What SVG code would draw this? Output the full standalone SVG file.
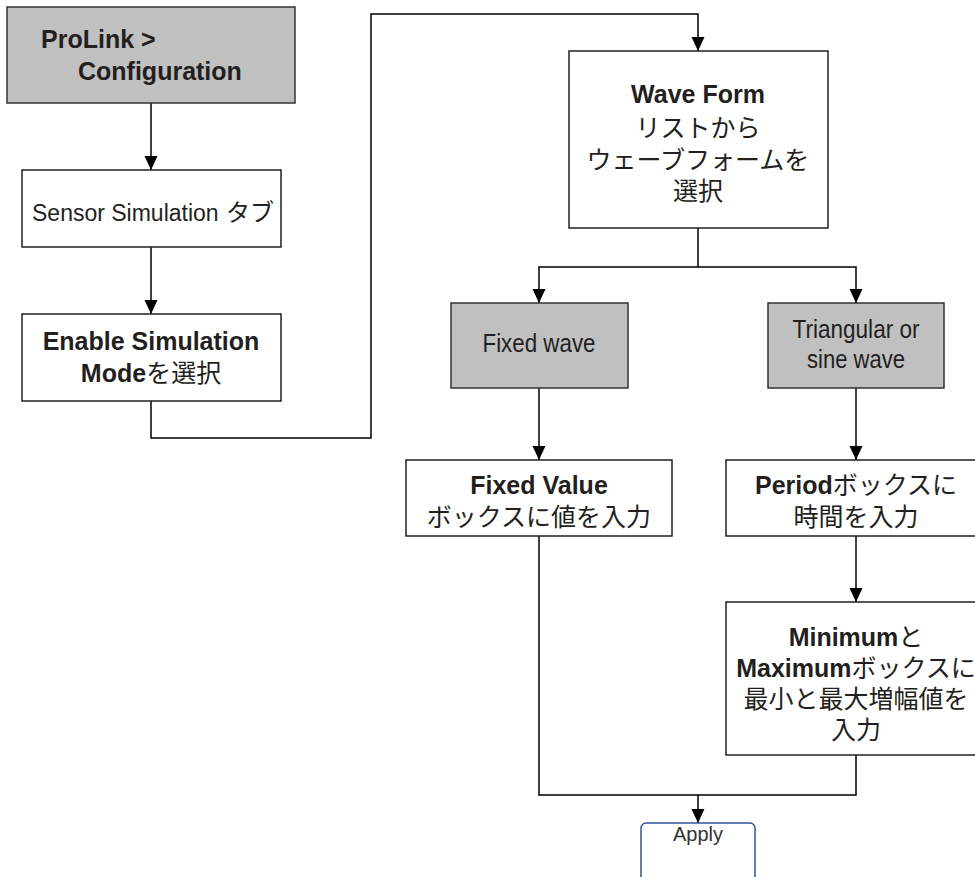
<svg xmlns="http://www.w3.org/2000/svg" width="975" height="877" viewBox="0 0 975 877">
<defs>
<marker id="ah" markerUnits="userSpaceOnUse" markerWidth="14" markerHeight="14" refX="14" refY="6.5" orient="auto">
<path d="M0,0 L14,6.5 L0,13 z" fill="#000"/>
</marker>
<style>
.box{fill:#fff;stroke:#231f20;stroke-width:1.5}
.gray{fill:#c0c0c0;stroke:#333;stroke-width:1.5}
.t{font-family:"Liberation Sans",Arial,"Noto Sans CJK JP",sans-serif;font-size:25px;fill:#231f20}
.c{text-anchor:middle}
.b{font-weight:bold;font-size:25px}
.jp{font-family:"Noto Sans CJK JP","Liberation Sans",sans-serif;font-size:25px;font-weight:normal}
.conn{fill:none;stroke:#000;stroke-width:1.5}
.apply{fill:#fff;stroke:#2f5597;stroke-width:1.5}
</style>
</defs>
<rect width="975" height="877" fill="#fff"/>
<g id="connectors">
<path class="conn" d="M151,103 V170" marker-end="url(#ah)"/>
<path class="conn" d="M151,247 V314" marker-end="url(#ah)"/>
<path class="conn" d="M151,401 V438 H371 V14 H698 V51" marker-end="url(#ah)"/>
<path class="conn" d="M698,228 V267 H539 V303" marker-end="url(#ah)"/>
<path class="conn" d="M698,267 H856 V303" marker-end="url(#ah)"/>
<path class="conn" d="M539,388 V460" marker-end="url(#ah)"/>
<path class="conn" d="M856,388 V460" marker-end="url(#ah)"/>
<path class="conn" d="M856,536 V602" marker-end="url(#ah)"/>
<path class="conn" d="M539,536 V795 H856 V755"/>
<path class="conn" d="M698,795 V823" marker-end="url(#ah)"/>
</g>
<g id="prolink">
<rect class="gray" x="7" y="7" width="288" height="96"/>
<text class="t b" x="41" y="48">ProLink &gt;</text>
<text class="t b" x="78" y="80">Configuration</text>
</g>
<g id="sensor-tab">
<rect class="box" x="22" y="170" width="259" height="77"/>
<text class="t" x="32" y="221" style="font-size:23px">Sensor Simulation<tspan class="jp" x="226" style="font-size:24px">タブ</tspan></text>
</g>
<g id="enable-sim">
<rect class="box" x="22" y="314" width="259" height="87"/>
<text class="t c b" x="151" y="350">Enable Simulation</text>
<text class="t c b" x="151" y="382">Mode<tspan class="jp">を選択</tspan></text>
</g>
<g id="wave-form">
<rect class="box" x="569" y="51" width="259" height="177"/>
<text class="t c b" x="698" y="103">Wave Form</text>
<text class="t c jp" x="698" y="137">リストから</text>
<text class="t c jp" x="698" y="169">ウェーブフォームを</text>
<text class="t c jp" x="698" y="200">選択</text>
</g>
<g id="fixed-wave">
<rect class="gray" x="451" y="303" width="177" height="85"/>
<text class="t c" x="539" y="352" textLength="113" lengthAdjust="spacingAndGlyphs">Fixed wave</text>
</g>
<g id="tri-sine-wave">
<rect class="gray" x="768" y="303" width="176" height="85"/>
<text class="t c" x="856" y="338" textLength="127" lengthAdjust="spacingAndGlyphs">Triangular or</text>
<text class="t c" x="856" y="368" textLength="98" lengthAdjust="spacingAndGlyphs">sine wave</text>
</g>
<g id="fixed-value">
<rect class="box" x="406" y="460" width="266" height="76"/>
<text class="t c b" x="539" y="494">Fixed Value</text>
<text class="t c jp" x="539" y="526">ボックスに値を入力</text>
</g>
<g id="period">
<rect class="box" x="726" y="460" width="260" height="76"/>
<text class="t c b" x="856" y="494">Period<tspan class="jp">ボックスに</tspan></text>
<text class="t c jp" x="856" y="526">時間を入力</text>
</g>
<g id="min-max">
<rect class="box" x="726" y="602" width="260" height="153"/>
<text class="t c b" x="856" y="646">Minimum<tspan class="jp">と</tspan></text>
<text class="t c b" x="856" y="677">Maximum<tspan class="jp">ボックスに</tspan></text>
<text class="t c jp" x="856" y="708">最小と最大増幅値を</text>
<text class="t c jp" x="856" y="739">入力</text>
</g>
<g id="apply">
<rect class="apply" x="641" y="823" width="114" height="70" rx="5"/>
<text class="t c" x="698" y="841" style="font-size:20px;fill:#333">Apply</text>
</g>
</svg>
